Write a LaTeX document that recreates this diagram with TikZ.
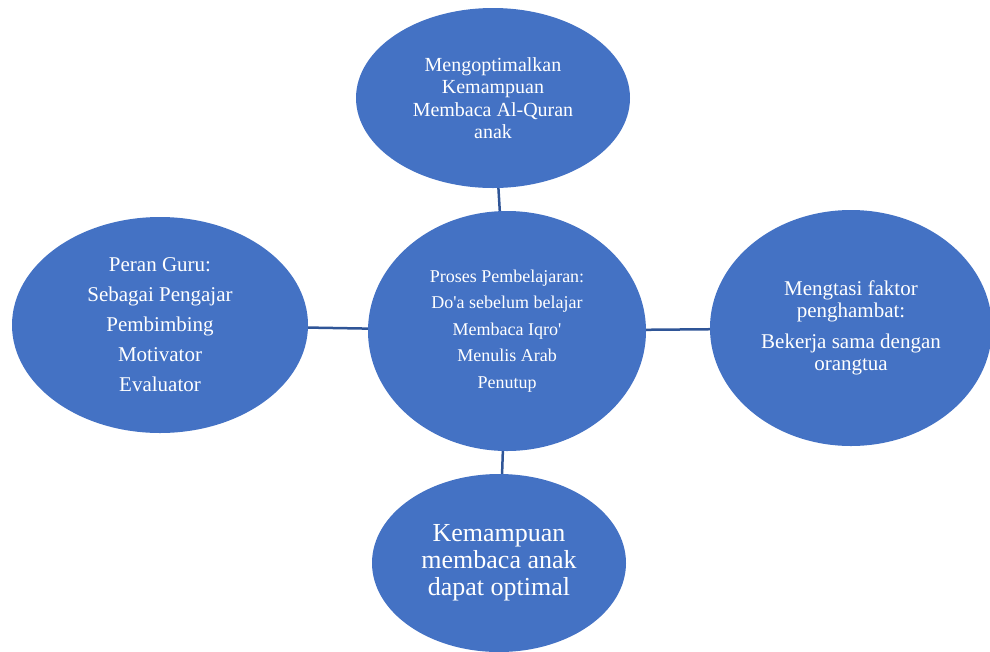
\documentclass[tikz,border=0pt]{standalone}
\usepackage{fontspec}
\setmainfont{Liberation Serif}
\usetikzlibrary{shapes.geometric}
\definecolor{bubblefill}{HTML}{4472C4}
\definecolor{linkline}{HTML}{2F5597}
\begin{document}
\begin{tikzpicture}[x=1pt,y=-1pt,
	bubble/.style={ellipse,fill=bubblefill,text=white,inner sep=0pt,align=center},
	link/.style={line width=2.5pt,draw=linkline}]
	\useasboundingbox (0,0) rectangle (990,651);
	\node[bubble,minimum width=274pt,minimum height=180pt,font=\fontsize{20}{22.5}\selectfont] (goal) at (493,98) {Mengoptimalkan\\Kemampuan\\Membaca Al-Quran\\anak};
	\node[bubble,minimum width=278pt,minimum height=240pt,font=\fontsize{18}{26.5}\selectfont] (proses) at (507,331) {Proses Pembelajaran:\\Do\textquotesingle a sebelum belajar\\Membaca Iqro\textquotesingle\\Menulis Arab\\Penutup};
	\node[bubble,minimum width=296pt,minimum height=216pt,font=\fontsize{21}{30}\selectfont] (guru) at (160,325) {Peran Guru:\\Sebagai Pengajar\\Pembimbing\\Motivator\\Evaluator};
	\node[bubble,minimum width=282pt,minimum height=236pt,font=\fontsize{21}{22}\selectfont] (faktor) at (851,328) {Mengtasi faktor\\penghambat:\\[9pt]Bekerja sama dengan\\orangtua};
	\node[bubble,minimum width=254pt,minimum height=178pt,font=\fontsize{26}{27}\selectfont] (hasil) at (499,563) {Kemampuan\\membaca anak\\dapat optimal};
	\draw[link] (goal) -- (proses);
	\draw[link] (guru) -- (proses);
	\draw[link] (proses) -- (faktor);
	\draw[link] (proses) -- (hasil);
\end{tikzpicture}
\end{document}
